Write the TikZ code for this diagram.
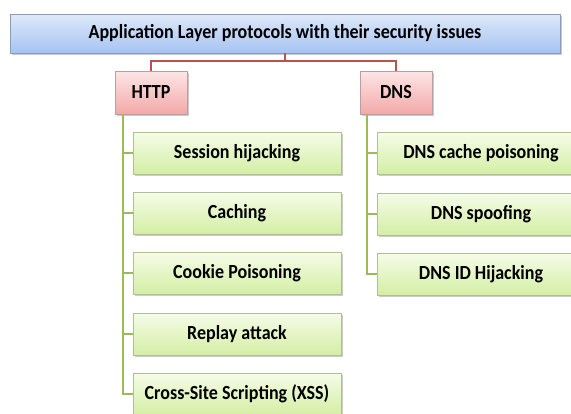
\documentclass[tikz,border=0pt]{standalone}
\usepackage{fontspec}
\setmainfont{Carlito}
\newfontfamily\boxfont[FakeStretch=0.9]{Carlito}
\usetikzlibrary{shadows}
\definecolor{redline}{HTML}{C0504D}
\definecolor{greenline}{HTML}{9BBB59}
\definecolor{bluetop}{HTML}{DFE9FA}
\definecolor{bluebot}{HTML}{A6C3F2}
\definecolor{blueedge}{HTML}{8C9CB8}
\definecolor{pinktop}{HTML}{FDE6E6}
\definecolor{pinkbot}{HTML}{F3A8A8}
\definecolor{pinkedge}{HTML}{B9A0A0}
\definecolor{greentop}{HTML}{F5FCE8}
\definecolor{greenbot}{HTML}{D4EEA4}
\definecolor{greenedge}{HTML}{B0BF98}
\tikzset{
  basebox/.style={draw, line width=0.8pt, inner sep=0pt, align=center,
    font=\boxfont\bfseries\fontsize{20}{22}\selectfont,
    drop shadow={shadow xshift=1.5pt, shadow yshift=-1.8pt, opacity=0.35, fill=black!60}},
  topbox/.style={basebox, draw=blueedge, top color=bluetop, bottom color=bluebot,
    minimum width=550pt, minimum height=39pt},
  protobox/.style={basebox, draw=pinkedge, top color=pinktop, bottom color=pinkbot,
    minimum width=72pt, minimum height=43pt},
  issuebox/.style={basebox, draw=greenedge, top color=greentop, bottom color=greenbot,
    minimum width=208pt, minimum height=42pt},
  redconn/.style={draw=redline, line width=2.8pt},
  greenconn/.style={draw=greenline, line width=2.8pt}
}
\begin{document}
\begin{tikzpicture}[x=1pt,y=-1pt]
\useasboundingbox (0,0) rectangle (571,413);
\clip (0,0) rectangle (571,413);
% nodes
\node[topbox] (top) at (285,33.5) {Application Layer protocols with their security issues};
\node[protobox] (http) at (151,92.5) {HTTP};
\node[protobox] (dns) at (396,92.5) {DNS};
\node[issuebox] (h1) at (237,153) {Session hijacking};
\node[issuebox] (h2) at (237,213) {Caching};
\node[issuebox] (h3) at (237,273) {Cookie Poisoning};
\node[issuebox] (h4) at (237,334) {Replay attack};
\node[issuebox] (h5) at (237,394) {Cross-Site Scripting (XSS)};
\node[issuebox] (d1) at (481,153) {DNS cache poisoning};
\node[issuebox] (d2) at (481,214) {DNS spoofing};
\node[issuebox] (d3) at (481,274) {DNS ID Hijacking};
% connectors
\coordinate (j) at (285,61);
\draw[redconn] (top.south) -- (j) -| (http.north);
\draw[redconn] (j) -| (dns.north);
\coordinate (ht) at (123,114.5);
\coordinate (dt) at (367,114.5);
\foreach \n in {h1,h2,h3,h4,h5} \draw[greenconn] (ht) |- (\n.west);
\foreach \n in {d1,d2,d3} \draw[greenconn] (dt) |- (\n.west);
\end{tikzpicture}
\end{document}
